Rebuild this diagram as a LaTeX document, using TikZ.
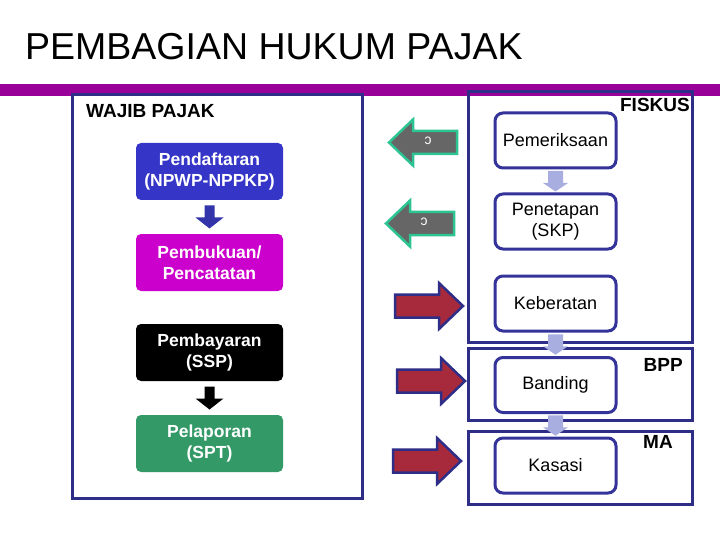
\documentclass[tikz,border=0pt]{standalone}
\usepackage{fontspec}
\setmainfont{Liberation Sans}
\usetikzlibrary{calc}
\definecolor{barpurple}{HTML}{990099}
\definecolor{navy}{HTML}{2E2D88}
\definecolor{boxblue}{HTML}{333399}
\definecolor{pendblue}{HTML}{3535C8}
\definecolor{magenta2}{HTML}{CC00CC}
\definecolor{sptgreen}{HTML}{339966}
\definecolor{lav}{HTML}{A9AEE0}
\definecolor{teal2}{HTML}{2DC494}
\definecolor{agray}{HTML}{666666}
\definecolor{darkred}{HTML}{A62A3C}
\definecolor{darrow}{HTML}{3333AA}
\tikzset{
  frame/.style={draw=navy, line width=3pt},
  leftbox/.style={rounded corners=5pt, minimum width=147pt, minimum height=57pt, text=white,
    font=\fontsize{17.5}{20.5}\selectfont\bfseries, align=center, inner sep=0pt},
  rightbox/.style={draw=boxblue, line width=3pt, rounded corners=8pt, fill=white,
    minimum width=121pt, minimum height=55pt, font=\fontsize{18}{20.5}\selectfont, align=center, inner sep=0pt},
  lbl/.style={font=\fontsize{19}{22}\selectfont\bfseries, inner sep=0pt},
  downarr/.pic={\fill[pic actions] (-5,-11.5) -- (5,-11.5) -- (5,0.5) -- (14,0.5) -- (0,11.5) -- (-14,0.5) -- (-5,0.5) -- cycle;},
  lightarr/.pic={\fill[pic actions] (-7.5,-10) -- (7.5,-10) -- (7.5,2) -- (12.5,2) -- (0,10.5) -- (-12.5,2) -- (-7.5,2) -- cycle;},
  leftarr/.pic={\path[pic actions] (0,0) -- (24,-23) -- (24,-11.5) -- (68,-11.5) -- (68,11.5) -- (24,11.5) -- (24,23) -- cycle;},
  rightarr/.pic={\path[pic actions] (0,0) -- (-24,-23) -- (-24,-11.5) -- (-68,-11.5) -- (-68,11.5) -- (-24,11.5) -- (-24,23) -- cycle;},
  greenarrow/.style={fill=agray, draw=teal2, line width=2.5pt, line join=miter},
  redarrow/.style={fill=darkred, draw=navy, line width=2.5pt, line join=miter}
}
\begin{document}
\begin{tikzpicture}[x=1pt,y=-1pt]
\useasboundingbox (0,0) rectangle (720,540);
% title and bar
\node[anchor=base west, font=\fontsize{37.5}{40}\selectfont, inner sep=0pt] (title) at (25,59.5) {PEMBAGIAN HUKUM PAJAK};
\fill[barpurple] (0,84) rectangle (720,96);
% frames
\draw[frame] (72,95) rectangle (362,498);
\draw[frame] (468,92) rectangle (692,342);
\draw[frame] (468,348) rectangle (692,420);
\draw[frame] (468,431) rectangle (692,504);
% labels
\node[lbl, anchor=base west] (wp) at (86,118) {WAJIB PAJAK};
\node[lbl, anchor=base east] (fiskus) at (690,112) {FISKUS};
\node[lbl, anchor=base east] (bpp) at (683,371) {BPP};
\node[lbl, anchor=base west] (ma) at (643,448) {MA};
% left boxes
\node[leftbox, fill=pendblue] (pend) at (209.5,171.5) {Pendaftaran\\(NPWP-NPPKP)};
\node[leftbox, fill=magenta2] (buku) at (209.5,262.5) {Pembukuan/\\Pencatatan};
\node[leftbox, fill=black] (bayar) at (209.5,352.5) {Pembayaran\\(SSP)};
\node[leftbox, fill=sptgreen] (lapor) at (209.5,443.5) {Pelaporan\\(SPT)};
\pic[fill=darrow] at ($(pend.south)!0.5!(buku.north)$) {downarr};
\pic[fill=black] at ($(bayar.south)!0.5!(lapor.north)$) {downarr};
% right boxes
\node[rightbox] (periksa) at (555.5,140.5) {Pemeriksaan};
\node[rightbox] (tetap) at (555.5,221.5) {Penetapan\\(SKP)};
\node[rightbox] (berat) at (555.5,303.5) {Keberatan};
\node[rightbox] (banding) at (555.5,385) {Banding};
\node[rightbox] (kasasi) at (555.5,465.5) {Kasasi};
\pic[fill=lav] at ($(periksa.south)!0.5!(tetap.north)$) {lightarr};
\pic[fill=lav] at ($(berat.south)!0.5!(banding.north)$) {lightarr};
\pic[fill=lav] at ($(banding.south)!0.5!(kasasi.north)$) {lightarr};
% green arrows
\pic[greenarrow] at (389,142.5) {leftarr};
\pic[greenarrow] at (386,223.5) {leftarr};
\node[text=white, font=\fontsize{14}{14}\selectfont, inner sep=0pt] (m1) at (428,141) {\reflectbox{c}};
\node[text=white, font=\fontsize{14}{14}\selectfont, inner sep=0pt] (m2) at (424,222) {\reflectbox{c}};
% red arrows
\pic[redarrow] at (463,306) {rightarr};
\pic[redarrow] at (465,381) {rightarr};
\pic[redarrow] at (461,461) {rightarr};
\end{tikzpicture}
\end{document}
